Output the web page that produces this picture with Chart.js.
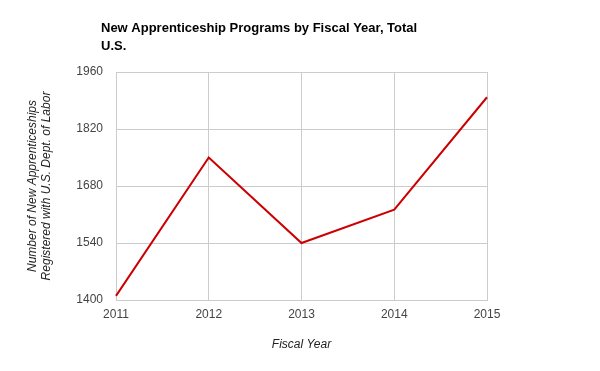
<!DOCTYPE html>
<html>
<head>
<meta charset="utf-8">
<script src="https://cdn.jsdelivr.net/npm/chart.js@4.4.1/dist/chart.umd.min.js"></script>
<style>
  html, body { margin: 0; padding: 0; background: #fff; }
  #wrap { width: 600px; height: 371px; }
</style>
</head>
<body>
<div id="wrap"><canvas id="grafico"></canvas></div>
<script>
// dati
const anni = ["2011", "2012", "2013", "2014", "2015"];
const programmi = [1410, 1750, 1540, 1622, 1898];
const titolo = ["New Apprenticeship Programs by Fiscal Year, Total", "U.S."];
const titoloY = ["Number of New Apprenticeships", "Registered with U.S. Dept. of Labor"];
const titoloX = "Fiscal Year";
const yMin = 1400, yMax = 1960, yStep = 140;

// titolo disegnato a mano, allineato a sinistra come nell'originale
const titoloPlugin = {
  id: "titoloPlugin",
  afterDraw(chart){
    const ctx = chart.ctx;
    ctx.save();
    ctx.font = "bold 13px 'Liberation Sans', Arial, sans-serif";
    ctx.fillStyle = "#000";
    ctx.textBaseline = "alphabetic";
    ctx.textAlign = "left";
    titolo.forEach((riga, i) => ctx.fillText(riga, 101, 32 + i * 18));
    ctx.restore();
  }
};

const ctx = document.getElementById("grafico").getContext("2d");
new Chart(ctx, {
  type: "line",
  data: {
    labels: anni,
    datasets: [{
      data: programmi,
      borderColor: "#cc0000",
      borderWidth: 2,
      pointRadius: 0,
      tension: 0,
      fill: false
    }]
  },
  options: {
    responsive: true,
    maintainAspectRatio: false,
    animation: false,
    layout: { padding: { top: 72, right: 113, left: 0, bottom: 0 } },
    plugins: {
      legend: { display: false },
      title: { display: false },
      tooltip: { enabled: false }
    },
    scales: {
      x: {
        type: "category",
        offset: false,
        grid: { color: "#cccccc", drawTicks: false },
        border: { color: "#cccccc" },
        ticks: {
          color: "#444",
          padding: 7,
          maxRotation: 0,
          autoSkip: false,
          font: { family: "'Liberation Sans', Arial, sans-serif", size: 12 }
        },
        title: {
          display: true,
          text: titoloX,
          color: "#222",
          padding: { top: 0, bottom: 19 },
          font: { family: "'Liberation Sans', Arial, sans-serif", size: 12, style: "italic" }
        },
        afterFit(scale){ scale.height = 71; }
      },
      y: {
        min: yMin,
        max: yMax,
        grid: { color: "#cccccc", drawTicks: false },
        border: { color: "#cccccc" },
        ticks: {
          stepSize: yStep,
          color: "#444",
          padding: 13,
          callback: v => String(v),
          font: { family: "'Liberation Sans', Arial, sans-serif", size: 12 }
        },
        title: {
          display: true,
          text: titoloY,
          color: "#222",
          padding: { top: 25, bottom: 0 },
          font: { family: "'Liberation Sans', Arial, sans-serif", size: 12, style: "italic" }
        },
        afterFit(scale){ scale.width = 116; }
      }
    }
  },
  plugins: [titoloPlugin]
});
</script>
</body>
</html>
